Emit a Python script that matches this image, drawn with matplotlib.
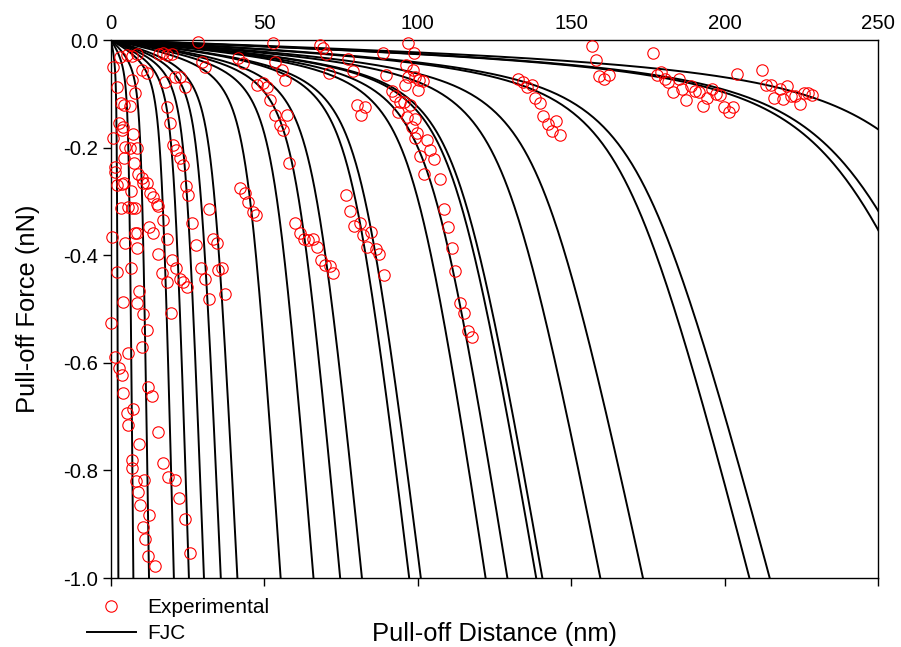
import numpy as np
import matplotlib
matplotlib.use("Agg")
import matplotlib.pyplot as plt
from matplotlib.lines import Line2D

plt.rcParams['font.family'] = ['Liberation Sans', 'DejaVu Sans']
plt.rcParams['axes.unicode_minus'] = False

# measured pull-off events: distance (nm), force (nN)
exp_dist = [
    0.6, 2.1, 3.2, 4.2, 6.2, 2.7, 4.0, 3.5, 0.6, 7.1, 4.6, 6.2, 8.4, 4.2, 7.5, 1.3, 1.3,
    1.9, 3.5, 4.2, 6.4, 8.7, 10.0, 10.5, 11.6, 12.7, 13.8, 14.9, 3.2, 5.6, 6.8, 7.8,
    12.5, 16.9, 26.3, 6.8, 7.8, 2.9, 5.1, 6.8, 8.6, 10.0, 11.6, 15.8, 17.1, 18.2, 19.8,
    17.6, 20.9, 22.5, 24.1, 18.2, 19.2, 20.1, 21.2, 22.5, 23.4, 24.5, 25.2, 28.3, 29.6,
    30.7, 41.5, 43.1, 42.1, 43.7, 44.8, 46.4, 47.3, 47.5, 49.5, 50.8, 51.9, 53.5, 55.1,
    56.0, 57.3, 58.1, 52.9, 53.5, 55.7, 56.7, 60.0,
    0.2, 4.6, 7.8, 8.6, 8.6, 13.8, 18.4, 15.2, 19.8, 21.2, 16.5, 18.2, 22.5, 23.6, 24.9,
    6.5, 2.1, 9.2, 3.8, 8.4, 10.3, 19.5, 11.6, 0.0, 10.0, 5.6, 1.3, 2.7, 3.5, 12.0, 13.5,
    4.0, 15.4, 27.7, 29.3, 30.7, 32.1, 32.1, 33.2, 34.5, 35.0, 36.2, 37.2,
    7.3, 5.1, 5.4, 15.4, 9.2, 6.9, 6.9, 17.1, 8.2, 10.9, 8.9, 18.7, 20.9, 9.5, 22.3,
    12.5, 10.3, 24.1, 11.1, 12.2, 14.3, 25.8,
    68.2, 69.2, 70.1, 70.9, 77.4, 78.8, 88.6, 96.9, 98.6, 89.7, 96.2, 98.4, 99.1, 96.9,
    100.5, 101.6, 95.9, 91.5, 92.6, 94.2, 95.5, 97.5, 93.7, 96.4, 99.1, 98.1, 99.9, 99.1,
    102.9, 100.8, 104.0, 105.3, 102.1, 107.1, 100.2, 80.3, 82.8, 81.4, 76.6, 77.9, 79.2,
    81.0, 82.1, 84.7, 83.6, 86.4, 87.5, 89.0, 61.6, 62.9, 64.3, 65.8, 67.1, 68.4, 69.8,
    71.4, 72.5, 108.4, 109.7, 111.1, 112.2, 113.6, 114.9, 116.5, 117.8,
    132.8, 134.3, 135.6, 137.2, 138.3, 139.7, 140.8, 142.3, 143.7, 145.1, 146.4, 156.7,
    158.2, 159.2, 160.8, 162.2, 176.6, 178.1, 179.3, 180.7, 181.7, 183.2, 185.0, 186.1,
    187.5, 189.0, 190.4, 191.7, 192.9, 194.2, 195.9, 197.3, 198.6, 199.9, 201.3, 202.7,
    204.0, 212.2, 213.6, 215.1, 216.2, 217.9, 219.0, 220.3, 221.6, 223.0, 224.5, 225.8,
    227.1, 228.5,
]
exp_force = [
    -0.051, -0.088, -0.117, -0.121, -0.123, -0.155, -0.161, -0.167, -0.183, -0.175,
    -0.199, -0.201, -0.201, -0.219, -0.228, -0.236, -0.245, -0.270, -0.268, -0.265,
    -0.281, -0.249, -0.256, -0.265, -0.265, -0.285, -0.291, -0.304, -0.313, -0.310,
    -0.313, -0.313, -0.347, -0.335, -0.340, -0.074, -0.098, -0.031, -0.028, -0.030,
    -0.026, -0.056, -0.062, -0.026, -0.025, -0.028, -0.026, -0.078, -0.068, -0.068,
    -0.088, -0.124, -0.155, -0.195, -0.204, -0.220, -0.232, -0.271, -0.288, -0.003,
    -0.040, -0.051, -0.034, -0.043, -0.276, -0.285, -0.302, -0.319, -0.325, -0.084,
    -0.080, -0.087, -0.112, -0.139, -0.158, -0.167, -0.139, -0.228, -0.006, -0.040,
    -0.056, -0.074, -0.340,
    -0.367, -0.378, -0.359, -0.359, -0.386, -0.359, -0.369, -0.397, -0.408, -0.424,
    -0.434, -0.449, -0.445, -0.449, -0.460, -0.423, -0.431, -0.466, -0.487, -0.489,
    -0.510, -0.507, -0.539, -0.526, -0.570, -0.582, -0.590, -0.610, -0.623, -0.645,
    -0.662, -0.657, -0.309, -0.381, -0.423, -0.445, -0.482, -0.315, -0.370, -0.377,
    -0.428, -0.424, -0.472,
    -0.685, -0.694, -0.716, -0.728, -0.750, -0.781, -0.796, -0.787, -0.819, -0.818,
    -0.840, -0.813, -0.817, -0.864, -0.852, -0.882, -0.906, -0.891, -0.927, -0.960,
    -0.978, -0.954,
    -0.009, -0.015, -0.026, -0.061, -0.036, -0.057, -0.024, -0.005, -0.024, -0.065,
    -0.046, -0.056, -0.068, -0.068, -0.074, -0.076, -0.084, -0.094, -0.105, -0.115,
    -0.115, -0.121, -0.133, -0.144, -0.147, -0.162, -0.173, -0.183, -0.186, -0.216,
    -0.204, -0.222, -0.249, -0.259, -0.093, -0.121, -0.124, -0.139, -0.288, -0.317,
    -0.346, -0.341, -0.362, -0.356, -0.384, -0.389, -0.398, -0.437, -0.358, -0.369,
    -0.372, -0.370, -0.385, -0.409, -0.418, -0.421, -0.434, -0.315, -0.347, -0.387,
    -0.429, -0.488, -0.507, -0.541, -0.552,
    -0.073, -0.078, -0.087, -0.084, -0.108, -0.117, -0.141, -0.156, -0.170, -0.150,
    -0.177, -0.011, -0.038, -0.067, -0.073, -0.065, -0.024, -0.065, -0.059, -0.073,
    -0.078, -0.096, -0.073, -0.092, -0.112, -0.086, -0.094, -0.096, -0.123, -0.107,
    -0.092, -0.100, -0.102, -0.125, -0.133, -0.124, -0.063, -0.056, -0.084, -0.084,
    -0.107, -0.092, -0.110, -0.086, -0.104, -0.105, -0.119, -0.099, -0.099, -0.102,
]

# FJC fits: contour length of each chain (nm)
contour_lengths = [
    1.96, 5.95, 10.11, 16.72, 20.72, 24.72, 29.20, 33.61, 45.11, 53.84, 60.93, 66.72,
    79.28, 82.38, 99.60, 105.39, 113.05, 114.69, 130.10, 141.44, 169.74, 175.13,
    243.0, 246.6, 271.5,
]
kuhn_length = 0.214   # nm
kT = 4.11e-3          # nN nm
segment_modulus = 4.0 # nN


def langevin(f):
    return 1.0 / np.tanh(f) - 1.0 / f


def fjc_extension(force, L):
    # extensible freely jointed chain
    return L * langevin(force * kuhn_length / kT) * (1 + force / segment_modulus)


fig = plt.figure(figsize=(9.01, 6.47), dpi=100)
ax = fig.add_axes([111 / 901, 1 - 578 / 647, 767 / 901, 538 / 647])

force = np.logspace(-5, np.log10(1.3), 600)
for L in contour_lengths:
    x = np.concatenate([[0.0], fjc_extension(force, L)])
    f = np.concatenate([[0.0], -force])
    ax.plot(x, f, color='black', lw=1.4, zorder=2)

ax.plot(exp_dist, exp_force, 'o', ms=8.2, mfc='none', mec='red', mew=0.8,
        clip_on=False, zorder=3)

ax.set_xlim(0, 250)
ax.set_ylim(-1.0, 0.0)
ax.set_xticks([0, 50, 100, 150, 200, 250])
ax.set_yticks([0.0, -0.2, -0.4, -0.6, -0.8, -1.0])
ax.yaxis.set_major_formatter(matplotlib.ticker.FormatStrFormatter('%.1f'))
ax.tick_params(axis='x', top=False, bottom=True, labeltop=True, labelbottom=False,
               direction='out', length=6, width=1, labelsize=14.7, pad=-1.3)
ax.tick_params(axis='y', left=True, right=False, direction='out', length=6,
               width=1, labelsize=14.7, pad=3)
for s in ax.spines.values():
    s.set_linewidth(1.0)

ax.set_xlabel('Pull-off Distance (nm)', fontsize=18.4, labelpad=25.5)
ax.xaxis.set_label_position('bottom')
ax.set_ylabel('Pull-off Force (nN)', fontsize=18.4, labelpad=17)

handles = [
    Line2D([], [], ls='none', marker='o', ms=8.2, mfc='none', mec='red', mew=0.8),
    Line2D([], [], color='black', lw=1.4),
]
fig.legend(handles, ['Experimental', 'FJC'], loc='upper left',
           bbox_to_anchor=(87 / 901, 1 - 598 / 647), frameon=False,
           fontsize=15, handlelength=2.35, handletextpad=0.55,
           labelspacing=0.34, borderpad=0, borderaxespad=0)

fig.savefig('out.png', dpi=100)
